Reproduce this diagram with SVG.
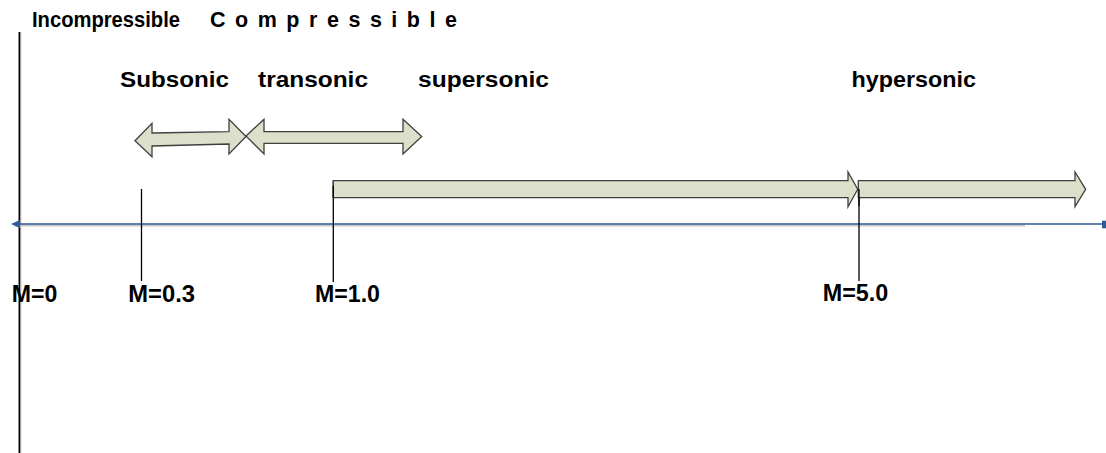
<svg xmlns="http://www.w3.org/2000/svg" width="1106" height="453" viewBox="0 0 1106 453">
<style>
text{font-family:"Liberation Sans",Arial,sans-serif;font-weight:bold;fill:#000}
.t20{font-size:21.5px}
.r{font-size:21.5px}
.m{font-size:24px}
.band{fill:#DCE0CA;stroke:#3f3f3f;stroke-width:1.3;stroke-linejoin:miter}
.tick{stroke:#000;stroke-width:1.3;fill:none}
</style>
<rect width="1106" height="453" fill="#fff"/>
<g id="frame">
<line x1="20.5" y1="32" x2="20.5" y2="453" stroke="#aaa" stroke-width="1.5"/>
<line x1="19.3" y1="32" x2="19.3" y2="453" stroke="#000" stroke-width="1.5"/>
</g>
<g id="title">
<text class="t20" x="32" y="27.3" textLength="148" lengthAdjust="spacingAndGlyphs">Incompressible</text>
<text class="t20" x="210" y="27.3" textLength="247" lengthAdjust="spacing">C o m p r e s s i b l e</text>
</g>
<g id="regimes">
<text class="r" x="120" y="87" textLength="109" lengthAdjust="spacingAndGlyphs">Subsonic</text>
<text class="r" x="258" y="87" textLength="110" lengthAdjust="spacingAndGlyphs">transonic</text>
<text class="r" x="418" y="87" textLength="131" lengthAdjust="spacingAndGlyphs">supersonic</text>
<text class="r" x="851.5" y="87" textLength="124.5" lengthAdjust="spacingAndGlyphs">hypersonic</text>
</g>
<g id="connectors">
<g id="axis">
<line x1="14" y1="225.5" x2="1025" y2="225.5" stroke="#c8c8c8" stroke-width="2"/>
<line x1="16" y1="224" x2="1102" y2="224" stroke="#2E5A96" stroke-width="1.6"/>
<polygon points="11,224 20,220 20,228" fill="#2E5A96"/>
<rect x="1102" y="220.7" width="4" height="7.6" fill="#2E5A96"/>
</g>
<g id="ticks">
<line class="tick" x1="141.5" y1="189" x2="141.5" y2="281"/>
<line class="tick" x1="333.3" y1="180.7" x2="333.3" y2="282"/>
<line class="tick" x1="859" y1="189" x2="859" y2="281"/>
</g>
<polygon id="arrow-subsonic" class="band" points="135,140.7 152,123.3 152,133 229,131.7 229,119.3 246,136.5 229,154 229,144 152,146 152,156.7"/>
<polygon id="arrow-transonic" class="band" points="246,136 264,119.3 264,131.7 403,131.7 403,119.3 421.7,136.5 403,154 403,143.3 264,143.3 264,154"/>
<polygon id="arrow-supersonic" class="band" points="333.3,180.7 848,180.7 848,172 857.7,189.3 848,206.7 848,197.7 333.3,197.7"/>
<polygon id="arrow-hypersonic" class="band" points="858.3,180.7 1075,180.7 1075,172 1085.7,189.3 1075,206.7 1075,197.7 858.3,197.7"/>
<line class="tick" x1="333.3" y1="186" x2="333.3" y2="197.7" stroke-width="2"/>
<line class="tick" x1="859" y1="189" x2="859" y2="206"/>
</g>
<g id="mach-labels">
<text class="m" x="11.7" y="301.5" textLength="45.6" lengthAdjust="spacingAndGlyphs">M=0</text>
<text class="m" x="128.3" y="301.5" textLength="66.7" lengthAdjust="spacingAndGlyphs">M=0.3</text>
<text class="m" x="315" y="301.5" textLength="65" lengthAdjust="spacingAndGlyphs">M=1.0</text>
<text class="m" x="822.7" y="301" textLength="65.6" lengthAdjust="spacingAndGlyphs">M=5.0</text>
</g>
</svg>
